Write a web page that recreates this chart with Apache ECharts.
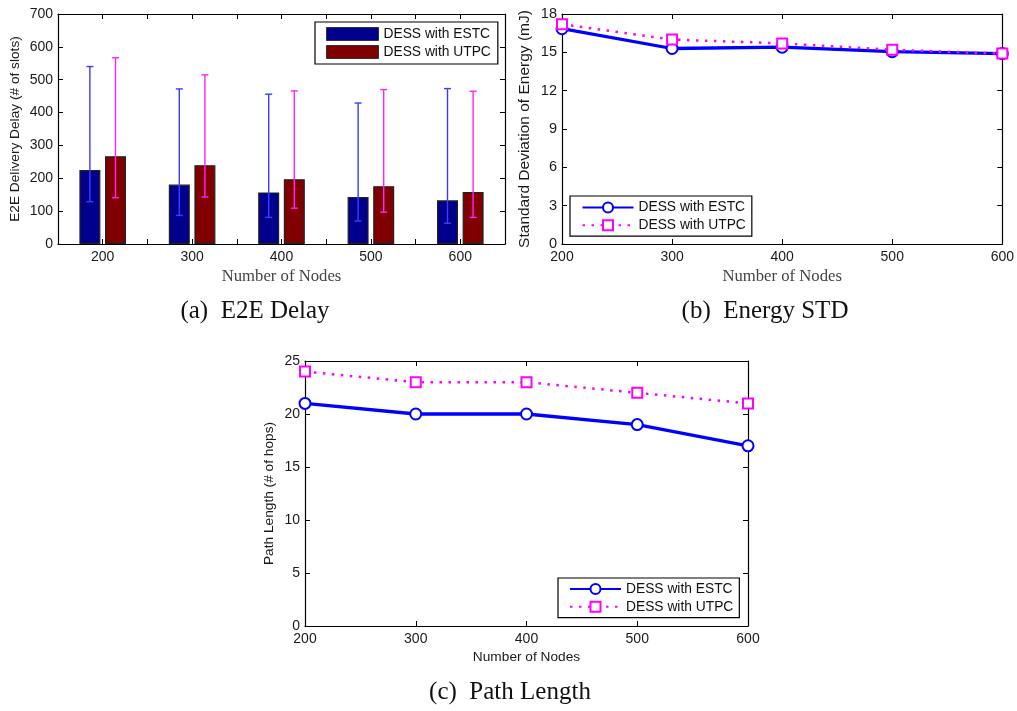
<!DOCTYPE html>
<html>
<head>
<meta charset="utf-8">
<script src="https://cdn.jsdelivr.net/npm/echarts@6/dist/echarts.min.js"></script>
<style>html,body{margin:0;padding:0;background:#fff}#c{width:1017px;height:711px}</style>
</head>
<body>
<div id="c"></div>
<script>
// ---------- data ----------
const nodes = [200, 300, 400, 500, 600];
const seriesLabels = ['DESS with ESTC', 'DESS with UTPC'];

// (a) E2E delay (# of slots)
const delayESTC = [225, 181, 157, 143, 133];
const delayUTPC = [267, 240, 197, 176, 158];
const delayESTCLow = [129, 87, 81, 70, 63];
const delayESTCHigh = [540, 472, 456, 429, 473];
const delayUTPCLow = [141, 143, 109, 97, 81];
const delayUTPCHigh = [567, 515, 466, 470, 465];

// (b) standard deviation of energy (mJ)
const energyESTC = [16.85, 15.3, 15.4, 15.05, 14.9];
const energyUTPC = [17.2, 16.0, 15.7, 15.2, 14.9];

// (c) path length (# of hops)
const pathESTC = [21, 20, 20, 19, 17];
const pathUTPC = [24, 23, 23, 22, 21];

const captions = ['(a)  E2E Delay', '(b)  Energy STD', '(c)  Path Length'];
const xTitle = 'Number of Nodes';
const yTitles = ['E2E Delivery Delay (# of slots)', 'Standard Deviation of Energy (mJ)', 'Path Length (# of hops)'];

// ---------- helpers ----------
const SANS = 'Liberation Sans';
const SERIF = 'Liberation Serif';
const pairs = (xs, ys) => xs.map((x, i) => [x, ys[i]]);
const triples = (xs, lo, hi) => xs.map((x, i) => [x, lo[i], hi[i]]);

function xAxisPair(grid, min, max, interval, nameOpt, fmt) {
  const base = {
    type: 'value', gridIndex: grid, min: min, max: max, interval: interval,
    splitLine: {show: false},
    axisLine: {show: true, onZero: false, lineStyle: {color: '#000', width: 1.2}},
    axisTick: {show: true, inside: true, length: 5, lineStyle: {color: '#000'}}
  };
  return [
    Object.assign({}, base, {
      position: 'bottom',
      axisLabel: {show: true, margin: 6, fontSize: 14, fontFamily: SANS, color: '#1a1a1a',
        formatter: fmt || (v => String(v)), showMinLabel: true, showMaxLabel: true},
    }, nameOpt),
    Object.assign({}, base, {position: 'top', axisLabel: {show: false}})
  ];
}
function yAxisPair(grid, min, max, interval, nameOpt, fontSize) {
  const base = {
    type: 'value', gridIndex: grid, min: min, max: max, interval: interval,
    splitLine: {show: false},
    axisLine: {show: true, onZero: false, lineStyle: {color: '#000', width: 1.2}},
    axisTick: {show: true, inside: true, length: 5, lineStyle: {color: '#000'}}
  };
  return [
    Object.assign({}, base, {
      position: 'left',
      axisLabel: {show: true, margin: 5, fontSize: fontSize || 14, fontFamily: SANS, color: '#1a1a1a'}
    }, nameOpt),
    Object.assign({}, base, {position: 'right', axisLabel: {show: false}})
  ];
}

function errRender(offset, color) {
  return function (params, api) {
    const x = api.value(0), lo = api.value(1), hi = api.value(2);
    const pLo = api.coord([x, lo]);
    const pHi = api.coord([x, hi]);
    const cx = pLo[0] + offset, hw = 3.5;
    const st = {stroke: color, lineWidth: 1.4};
    return {
      type: 'group',
      children: [
        {type: 'line', shape: {x1: cx, y1: pLo[1], x2: cx, y2: pHi[1]}, style: st},
        {type: 'line', shape: {x1: cx - hw, y1: pHi[1], x2: cx + hw, y2: pHi[1]}, style: st},
        {type: 'line', shape: {x1: cx - hw, y1: pLo[1], x2: cx + hw, y2: pLo[1]}, style: st}
      ]
    };
  };
}

const tag = ['a:', 'b:', 'c:'];
const nm = (p, i) => tag[p] + seriesLabels[i];
const stripTag = n => n.slice(2);

const xa = xAxisPair(0, 150, 650, 50, {
  name: xTitle, nameLocation: 'middle', nameGap: 24,
  nameTextStyle: {fontFamily: SERIF, fontSize: 16.7, color: '#444'}
}, v => (v % 100 === 0 ? String(v) : ''));
const xb = xAxisPair(1, 200, 600, 100, {
  name: xTitle, nameLocation: 'middle', nameGap: 24,
  nameTextStyle: {fontFamily: SERIF, fontSize: 16.7, color: '#444'}
});
const xc = xAxisPair(2, 200, 600, 100, {
  name: xTitle, nameLocation: 'middle', nameGap: 24,
  nameTextStyle: {fontFamily: SANS, fontSize: 13.7, color: '#1a1a1a'}
});
const ya = yAxisPair(0, 0, 700, 100, {
  name: yTitles[0], nameLocation: 'middle', nameGap: 36,
  nameTextStyle: {fontFamily: SANS, fontSize: 13.7, color: '#1a1a1a'}
});
const yb = yAxisPair(1, 0, 18, 3, {
  name: yTitles[1], nameLocation: 'middle', nameGap: 29,
  nameTextStyle: {fontFamily: SANS, fontSize: 15.5, color: '#1a1a1a'}
}, 14.5);
const yc = yAxisPair(2, 0, 25, 5, {
  name: yTitles[2], nameLocation: 'middle', nameGap: 29,
  nameTextStyle: {fontFamily: SANS, fontSize: 13.7, color: '#1a1a1a'}
});

const estcLine = {
  type: 'line', symbol: 'emptyCircle', symbolSize: 11,
  lineStyle: {color: '#0000ff', width: 3.3},
  itemStyle: {color: '#0000ff', borderWidth: 3}, z: 3
};
const utpcLine = {
  type: 'line', symbol: 'emptyRect', symbolSize: 10,
  lineStyle: {color: '#ff00ff', width: 2.5, type: [2.5, 6.5]},
  itemStyle: {color: '#ff00ff', borderWidth: 3}, z: 4
};

const legendBase = {
  orient: 'vertical', backgroundColor: '#fff', borderColor: '#000', borderWidth: 1.2,
  itemGap: 3.7, formatter: stripTag, selectedMode: false,
  textStyle: {fontFamily: SANS, fontSize: 13.8, color: '#111'}
};

const option = {
  animation: false,
  backgroundColor: '#fff',
  grid: [
    {left: 58, top: 14, width: 447, height: 230},
    {left: 562, top: 14, width: 441, height: 230},
    {left: 305, top: 361, width: 443, height: 265}
  ],
  xAxis: [xa[0], xa[1], xb[0], xb[1], xc[0], xc[1]],
  yAxis: [ya[0], ya[1], yb[0], yb[1], yc[0], yc[1]],
  legend: [
    Object.assign({}, legendBase, {
      data: [nm(0, 0), nm(0, 1)], left: 315, top: 22, icon: 'rect',
      itemWidth: 52, itemHeight: 13, itemGap: 4, padding: [5, 7, 5, 11],
      itemStyle: {borderColor: '#333', borderWidth: 1}
    }),
    Object.assign({}, legendBase, {
      data: [nm(1, 0), nm(1, 1)], left: 570, top: 196,
      itemWidth: 51, itemHeight: 12.5, padding: [4.5, 6, 4, 11.5]
    }),
    Object.assign({}, legendBase, {
      data: [nm(2, 0), nm(2, 1)], left: 558, top: 578,
      itemWidth: 51, itemHeight: 12.5, padding: [4, 6, 4, 11]
    })
  ],
  series: [
    {name: nm(0, 0), type: 'bar', xAxisIndex: 0, yAxisIndex: 0, barWidth: 21, barGap: '22%',
      data: pairs(nodes, delayESTC), itemStyle: {color: '#00008c', borderColor: '#222', borderWidth: 1.2}},
    {name: nm(0, 1), type: 'bar', xAxisIndex: 0, yAxisIndex: 0, barWidth: 21, barGap: '22%',
      data: pairs(nodes, delayUTPC), itemStyle: {color: '#800000', borderColor: '#222', borderWidth: 1.2}},
    {type: 'custom', xAxisIndex: 0, yAxisIndex: 0, z: 5, renderItem: errRender(-12.8, '#3c3cff'),
      encode: {x: 0, y: [1, 2]}, data: triples(nodes, delayESTCLow, delayESTCHigh)},
    {type: 'custom', xAxisIndex: 0, yAxisIndex: 0, z: 5, renderItem: errRender(12.8, '#ff22ff'),
      encode: {x: 0, y: [1, 2]}, data: triples(nodes, delayUTPCLow, delayUTPCHigh)},

    Object.assign({}, estcLine, {name: nm(1, 0), xAxisIndex: 2, yAxisIndex: 2, data: pairs(nodes, energyESTC)}),
    Object.assign({}, utpcLine, {name: nm(1, 1), xAxisIndex: 2, yAxisIndex: 2, data: pairs(nodes, energyUTPC)}),

    Object.assign({}, estcLine, {name: nm(2, 0), xAxisIndex: 4, yAxisIndex: 4, data: pairs(nodes, pathESTC)}),
    Object.assign({}, utpcLine, {name: nm(2, 1), xAxisIndex: 4, yAxisIndex: 4, data: pairs(nodes, pathUTPC)})
  ],
  graphic: [
    {type: 'text', x: 255, y: 311, style: {text: captions[0], textAlign: 'center', textVerticalAlign: 'middle',
      font: '25px "Liberation Serif"', fill: '#111'}},
    {type: 'text', x: 765, y: 311, style: {text: captions[1], textAlign: 'center', textVerticalAlign: 'middle',
      font: '25px "Liberation Serif"', fill: '#111'}},
    {type: 'text', x: 510, y: 692, style: {text: captions[2], textAlign: 'center', textVerticalAlign: 'middle',
      font: '25px "Liberation Serif"', fill: '#111'}}
  ]
};

const chart = echarts.init(document.getElementById('c'), null, {renderer: 'canvas'});
chart.setOption(option);
</script>
</body>
</html>
